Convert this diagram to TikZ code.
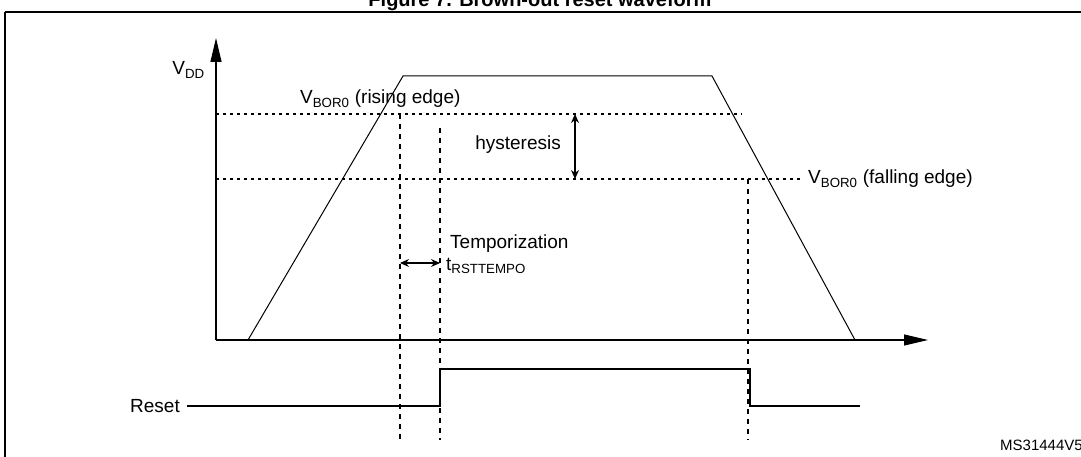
\documentclass[tikz,border=0pt]{standalone}
\usepackage{fontspec}
\setmainfont{Liberation Sans}
\usetikzlibrary{positioning, arrows.meta}

\begin{document}
\begin{tikzpicture}[x=1pt, y=-1pt, font=\fontsize{19}{22}\selectfont,
		level/.style={line width=1.1pt, dash pattern=on 3pt off 4pt},
		marker/.style={line width=1.1pt, dash pattern=on 5pt off 5pt},
		axis/.style={line width=1.2pt, -{Triangle[length=24pt, width=11pt]}},
		dim/.style={line width=1.1pt, {Stealth[length=9pt, width=8pt]}-{Stealth[length=9pt, width=8pt]}},
		lbl/.style={inner sep=0pt, anchor=west}]
	\useasboundingbox (0,0) rectangle (1081,457);
	\draw[line width=1.4pt] (5,12) -- (1090,12);
	\draw[line width=1.2pt] (5,12) -- (5,470);
	\node[font=\fontsize{20}{24}\selectfont\bfseries] (title) at (540,1) {Figure 7. Brown-out reset waveform};
	
	% axes
	\coordinate (O) at (216,340);
	\coordinate (ytop) at (216,38);
	\coordinate (xend) at (928,340);
	\draw[axis] (O) -- (ytop);
	\draw[axis] (O) -- (xend);
	\node[lbl, anchor=east] (vdd) at (205,70) {V\textsubscript{DD}};
	
	% supply waveform
	\coordinate (s0) at (248,340);
	\coordinate (s1) at (403,76);
	\coordinate (s2) at (712,76);
	\coordinate (s3) at (855,340);
	\draw[line width=1pt] (s0) -- (s1) -- (s2) -- (s3);
	
	% thresholds
	\draw[level] (216,114) -- (742,114);
	\draw[level] (216,179) -- (800,179);
	\node[lbl] (rise) at (300,99) {V\textsubscript{BOR0} (rising edge)};
	\node[lbl] (fall) at (808,179) {V\textsubscript{BOR0} (falling edge)};
	\coordinate (hyst1) at (575,114);
	\coordinate (hyst2) at (575,179);
	\draw[dim] (hyst1) -- (hyst2);
	\node[lbl, anchor=east] (hyst) at (561,145) {hysteresis};
	
	% markers
	\coordinate (m1) at (400,114);
	\coordinate (m2) at (440,128);
	\coordinate (m3) at (748,179);
	\foreach \m in {m1, m2, m3}
		\draw[marker] (\m) -- (\m |- 0,440);
	\coordinate (t1) at (400,263);
	\coordinate (t2) at (440,263);
	\draw[dim] (t1) -- (t2);
	\node[lbl] (temp) at (450,244) {Temporization};
	\node[lbl] (trst) at (446,266) {t\textsubscript{RSTTEMPO}};
	
	% reset signal
	\node[lbl, anchor=east] (reset) at (180,406) {Reset};
	\draw[line width=2.2pt] ([xshift=7pt]reset.east) -- (440,406) -- (440,369) -- (750,369) -- (750,406) -- (860,406);
	\node[lbl, font=\fontsize{15}{18}\selectfont] (ref) at (1000,445) {MS31444V5};
\end{tikzpicture}
\end{document}
